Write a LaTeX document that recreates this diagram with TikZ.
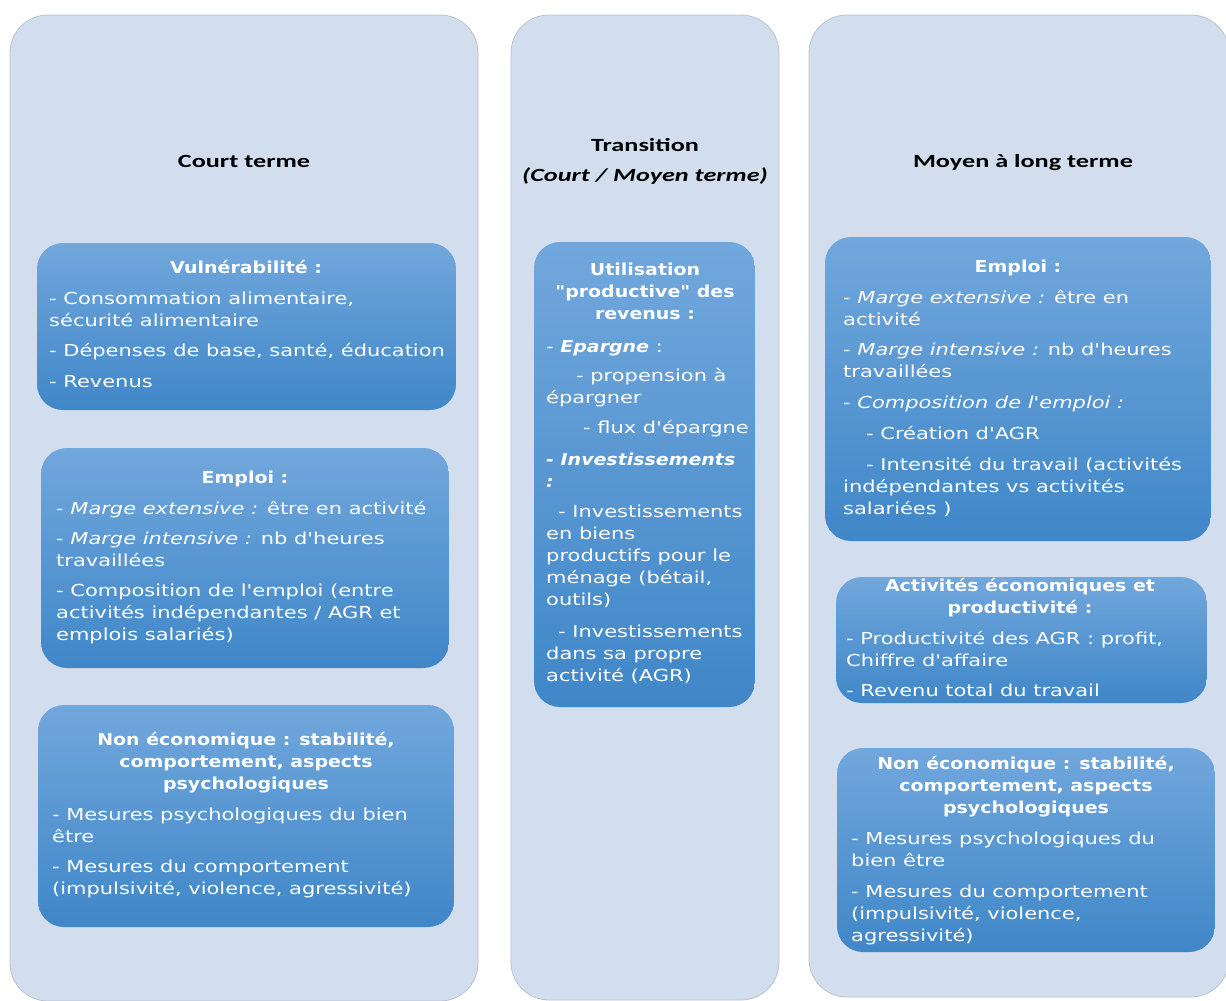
\documentclass[tikz,border=0pt]{standalone}
\usepackage{fontspec}
\newfontfamily\bodyff{DejaVu Sans}[FakeStretch=1.27]
\newfontfamily\headff{DejaVu Sans}[FakeStretch=1.15]
\newfontfamily\titleff{Carlito}[FakeStretch=1.41]
\definecolor{colbg}{RGB}{210,221,238}
\definecolor{colline}{RGB}{186,194,208}
\definecolor{boxtop}{RGB}{113,167,220}
\definecolor{boxbot}{RGB}{64,135,200}
\newcommand\bodysize{\fontsize{16.5}{22}\selectfont}
\newcommand\hbi[1]{{\headff\bfseries\itshape #1}}
\newcommand\fl{\rule{0pt}{16pt}}
\newcommand\bluepanel[4]{%
  \begin{scope}
    \clip[rounded corners=26pt] ({#1+60},#2) -- (#3,#2) -- (#3,#4) -- (#1,#4) -- (#1,#2) -- cycle;
    \pgfmathsetmacro\stp{(#4-#2)/50}%
    \foreach \k in {0,...,49}{%
      \pgfmathsetmacro\ya{#2+\stp*\k}%
      \pgfmathsetmacro\yb{#2+\stp*(\k+1.3)}%
      \pgfmathtruncatemacro\pc{2*\k+1}%
      \fill[boxbot!\pc!boxtop] (#1,\ya) rectangle (#3,\yb);
    }
  \end{scope}}
\tikzset{
  colbox/.style={fill=colbg, draw=colline, line width=0.8pt, rounded corners=38pt},
  coltitle/.style={font=\titleff\bfseries\fontsize{18.6}{31}\selectfont, text=black, align=center, anchor=north, inner sep=0pt},
  boxhead/.style={font=\headff\bfseries\bodysize, text=white, align=center, anchor=north, inner sep=0pt},
  boxbody/.style={font=\bodyff\bodysize, text=white, align=left, anchor=north west, inner sep=0pt}
}
\begin{document}
\begin{tikzpicture}[x=1pt,y=-1pt]
\useasboundingbox (0,0) rectangle (1226,1001);
\clip (0,0) rectangle (1226,1001);
\fill[white] (0,0) rectangle (1226,1001);
% columns
\path[colbox] (10,15) rectangle (478,1001);
\path[colbox] (511,15) rectangle (779,1000);
\path[colbox] (809,15) rectangle (1229,997);
% column titles (top = baseline - 16)
\node[coltitle] (t1) at (244,151) {\fl Court terme};
\node[coltitle] (t2) at (645,135) {\fl Transition\\[-0.5pt]\itshape (Court / Moyen terme)};
\node[coltitle] (t3) at (1023,151) {\fl Moyen à long terme};
% blue boxes
\bluepanel{37}{243}{456}{410}
\bluepanel{41}{448}{449}{668}
\bluepanel{38}{705}{454}{927}
\bluepanel{534}{242}{755}{707}
\bluepanel{825}{237}{1211}{541}
\bluepanel{836}{577}{1207}{703}
\bluepanel{837}{748}{1215}{952}
% box 1
\node[boxhead] (h1) at (246,257) {\fl Vulnérabilité :};
\node[boxbody] (b1) at (49,288) {\fl - Consommation alimentaire,\\ sécurité alimentaire\\[8.5pt]
- Dépenses de base, santé, éducation\\[8.5pt] - Revenus};
% box 2
\node[boxhead] (h2) at (245,467) {\fl Emploi :};
\node[boxbody] (b2) at (56,498) {\fl - \textit{Marge extensive :} être en activité\\[8.5pt]
- \textit{Marge intensive :} nb d'heures\\ travaillées\\[8pt]
- Composition de l'emploi (entre\\ activités indépendantes / AGR et\\ emplois salariés)};
% box 3
\node[boxhead] (h3) at (246,729) {\fl Non économique : stabilité,\\ comportement, aspects\\ psychologiques};
\node[boxbody] (b3) at (52,804) {\fl - Mesures psychologiques du bien\\ être\\[8pt]
- Mesures du comportement\\ (impulsivité, violence, agressivité)};
% box 4 (middle)
\node[boxhead] (h4) at (645,259) {\fl Utilisation\\ "productive" des\\ revenus :};
\node[boxbody] (b4) at (546,336) {\fl - \hbi{Epargne} :\\[7pt]
\hspace*{30pt}- propension à\\ épargner\\[8pt]
\hspace*{37pt}- flux d'épargne\\[10pt]
\hbi{- Investissements}\\ \hbi{:}\\[8pt]
\hspace*{12pt}- Investissements\\ en biens\\ productifs pour le\\ ménage (bétail,\\ outils)\\[10pt]
\hspace*{12pt}- Investissements\\ dans sa propre\\ activité (AGR)};
% box 5
\node[boxhead] (h5) at (1018,256) {\fl Emploi :};
\node[boxbody] (b5) at (843,287) {\fl - \textit{Marge extensive :} être en\\ activité\\[8.5pt]
- \textit{Marge intensive :} nb d'heures\\ travaillées\\[8.5pt]
- \textit{Composition de l'emploi :}\\[9pt]
\hspace*{23pt}- Création d'AGR\\[9pt]
\hspace*{23pt}- Intensité du travail (activités\\ indépendantes vs activités\\ salariées )};
% box 6
\node[boxhead] (h6) at (1020,575) {\fl Activités économiques et\\ productivité :};
\node[boxbody] (b6) at (846,628) {\fl - Productivité des AGR : profit,\\ Chiffre d'affaire\\[8pt]
- Revenu total du travail};
% box 7
\node[boxhead] (h7) at (1026,753) {\fl Non économique : stabilité,\\ comportement, aspects\\ psychologiques};
\node[boxbody] (b7) at (851,828) {\fl - Mesures psychologiques du\\ bien être\\[9pt]
- Mesures du comportement\\ (impulsivité, violence,\\ agressivité)};
\end{tikzpicture}
\end{document}
